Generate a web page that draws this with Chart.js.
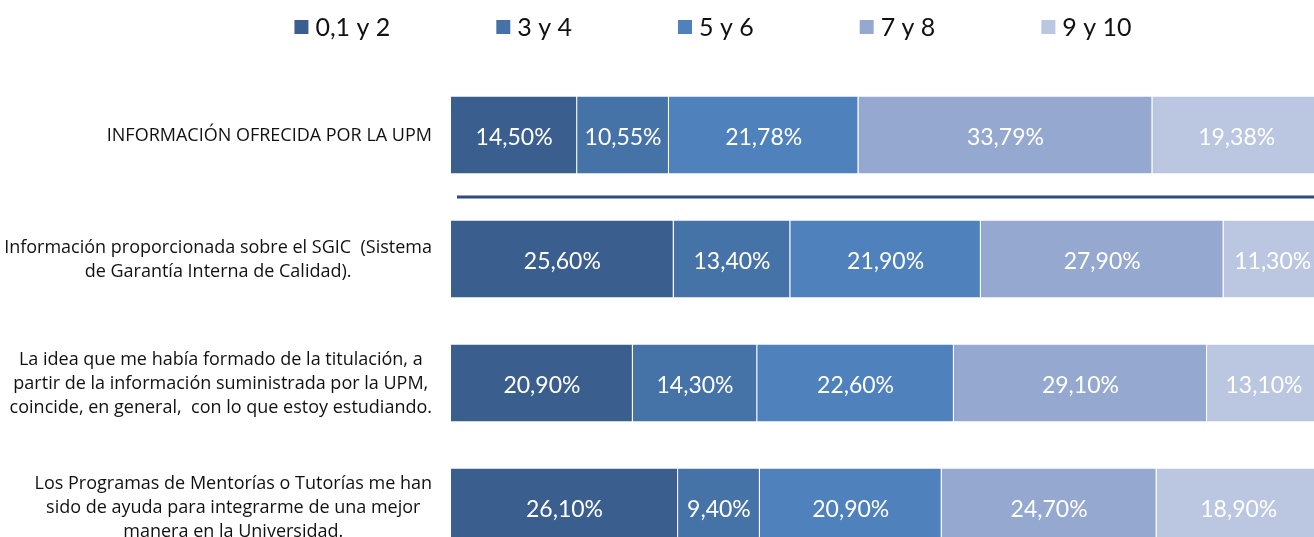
<!DOCTYPE html>
<html>
<head>
<meta charset="utf-8">
<script src="https://cdn.jsdelivr.net/npm/chart.js@4.4.1/dist/chart.umd.min.js"></script>
<style>
  html, body { margin: 0; padding: 0; background: #fff; overflow: hidden; }
  #wrap { position: relative; width: 1330px; height: 575px; }
</style>
</head>
<body>
<div id="wrap"><canvas id="chart"></canvas></div>
<script>
// categories (multi-line labels), series names and values
const categories = [
  ['INFORMACIÓN OFRECIDA POR LA UPM'],
  ['Información proporcionada sobre el SGIC  (Sistema', 'de Garantía Interna de Calidad).'],
  ['La idea que me había formado de la titulación, a', 'partir de la información suministrada por la UPM,', 'coincide, en general,  con lo que estoy estudiando.'],
  ['Los Programas de Mentorías o Tutorías me han', 'sido de ayuda para integrarme de una mejor', 'manera en la Universidad.']
];
const seriesNames = ['0,1 y 2', '3 y 4', '5 y 6', '7 y 8', '9 y 10'];
const score012 = [14.50, 25.60, 20.90, 26.10];
const score34 = [10.55, 13.40, 14.30, 9.40];
const score56 = [21.78, 21.90, 22.60, 20.90];
const score78 = [33.79, 27.90, 29.10, 24.70];
const score910 = [19.38, 11.30, 13.10, 18.90];
const seriesValues = [score012, score34, score56, score78, score910];
const seriesColors = ['#3A5F8E', '#4673A7', '#4F81BD', '#95A9D0', '#BBC7E0'];

const FONT = 'Lato, "Open Sans", sans-serif';
const LABEL_FONT = '"Open Sans", Lato, sans-serif';

// y labels: lines centred inside a block that is right-aligned to the bars
const yLabelPlugin = {
  id: 'yLabels',
  afterDraw(chart) {
    const { ctx, chartArea, scales: { y } } = chart;
    ctx.save();
    ctx.font = `18px ${LABEL_FONT}`;
    ctx.fillStyle = '#111';
    ctx.textAlign = 'center';
    ctx.textBaseline = 'middle';
    const lh = 24;
    categories.forEach((lines, i) => {
      const cy = y.getPixelForValue(i) + 1;
      const maxW = Math.max(...lines.map(l => ctx.measureText(l).width));
      const cx = chartArea.left - 19 - maxW / 2;
      lines.forEach((l, k) => ctx.fillText(l, cx, cy + (k - (lines.length - 1) / 2) * lh));
    });
    ctx.restore();
  }
};

// value labels inside each segment
const barLabelPlugin = {
  id: 'barLabels',
  afterDatasetsDraw(chart) {
    const { ctx } = chart;
    ctx.save();
    ctx.font = `23px ${FONT}`;
    ctx.fillStyle = '#fff';
    ctx.textAlign = 'center';
    ctx.textBaseline = 'middle';
    chart.data.datasets.forEach((ds, di) => {
      chart.getDatasetMeta(di).data.forEach((el, i) => {
        const txt = ds.data[i].toFixed(2).replace('.', ',') + '%';
        ctx.fillText(txt, (el.x + el.base) / 2, el.y + 3);
      });
    });
    ctx.restore();
  }
};

// rule between the first (global) row and the rest
const separatorPlugin = {
  id: 'separator',
  afterDraw(chart) {
    const { ctx, chartArea, scales: { y } } = chart;
    const yy = (y.getPixelForValue(0) + y.getPixelForValue(1)) / 2;
    ctx.save();
    ctx.strokeStyle = '#2B4C7C';
    ctx.lineWidth = 3;
    ctx.beginPath();
    ctx.moveTo(chartArea.left + 6, yy);
    ctx.lineTo(chartArea.right + 20, yy);
    ctx.stroke();
    ctx.restore();
  }
};

// legend drawn on top with wide gaps
const legendPlugin = {
  id: 'topLegend',
  afterDraw(chart) {
    const { ctx } = chart;
    ctx.save();
    ctx.font = `25px ${FONT}`;
    ctx.textBaseline = 'middle';
    ctx.textAlign = 'left';
    const box = 14, gapText = 7, gapItem = 106, centre = 713, cy = 27;
    const widths = seriesNames.map(n => box + gapText + ctx.measureText(n).width);
    const total = widths.reduce((a, b) => a + b, 0) + gapItem * (widths.length - 1);
    let x = centre - total / 2;
    seriesNames.forEach((n, i) => {
      ctx.fillStyle = seriesColors[i];
      ctx.fillRect(x, cy - box / 2, box, box);
      ctx.fillStyle = '#111';
      ctx.fillText(n, x + box + gapText, cy + 1);
      x += widths[i] + gapItem;
    });
    ctx.restore();
  }
};

new Chart(document.getElementById('chart'), {
  type: 'bar',
  data: {
    labels: categories,
    datasets: seriesNames.map((name, i) => ({
      label: name,
      data: seriesValues[i],
      backgroundColor: seriesColors[i],
      borderColor: 'rgba(255,255,255,0.35)',
      borderWidth: { right: 1 },
      borderSkipped: false,
      barPercentage: 1,
      categoryPercentage: 0.62
    }))
  },
  options: {
    indexAxis: 'y',
    responsive: true,
    maintainAspectRatio: false,
    animation: false,
    events: [],
    layout: { padding: { left: 451, right: 9, top: 73, bottom: 6 } },
    scales: {
      x: { stacked: true, min: 0, max: 100, display: false },
      y: { stacked: true, display: false }
    },
    plugins: { legend: { display: false }, tooltip: { enabled: false } }
  },
  plugins: [yLabelPlugin, barLabelPlugin, separatorPlugin, legendPlugin]
});
</script>
</body>
</html>
